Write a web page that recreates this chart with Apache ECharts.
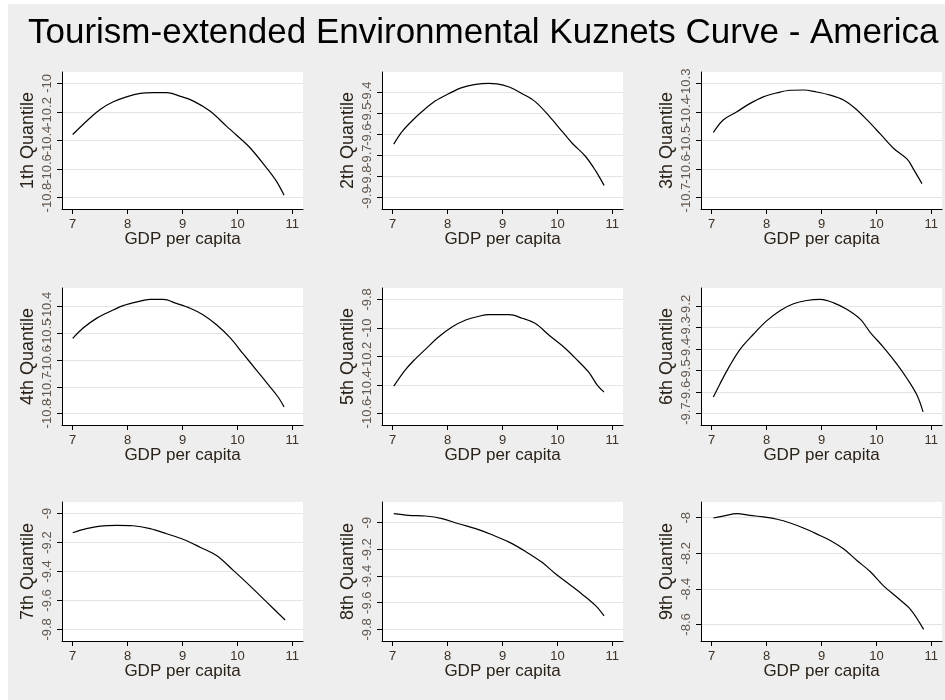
<!DOCTYPE html>
<html><head><meta charset="utf-8">
<script src="https://cdn.jsdelivr.net/npm/echarts@6/dist/echarts.min.js"></script>
<style>html,body{margin:0;padding:0;background:#ffffff;}#c{position:absolute;left:8px;top:4px;width:937px;height:696px;background:#eeeeee;}</style>
</head><body><div id="c"></div><script>
const titleText = 'Tourism-extended Environmental Kuznets Curve - America';
const panelNames = ['1th Quantile','2th Quantile','3th Quantile','4th Quantile','5th Quantile','6th Quantile','7th Quantile','8th Quantile','9th Quantile'];
const xAxisName = 'GDP per capita';
const xTicks = [7, 8, 9, 10, 11];

const q1x = [7.00, 7.32, 7.50, 7.74, 7.98, 8.23, 8.47, 8.71, 8.95, 9.20, 9.50, 9.80, 9.99, 10.23, 10.53, 10.71, 10.85];
const q1y = [-10.358, -10.241, -10.182, -10.129, -10.094, -10.070, -10.065, -10.065, -10.089, -10.124, -10.194, -10.299, -10.365, -10.451, -10.592, -10.685, -10.784];
const q2x = [7.02, 7.17, 7.35, 7.53, 7.78, 8.02, 8.26, 8.51, 8.75, 8.90, 9.12, 9.36, 9.60, 9.85, 10.09, 10.27, 10.51, 10.70, 10.85];
const q2y = [-9.645, -9.586, -9.535, -9.491, -9.439, -9.405, -9.376, -9.361, -9.356, -9.358, -9.373, -9.405, -9.444, -9.512, -9.586, -9.641, -9.703, -9.774, -9.842];
const q3x = [7.03, 7.21, 7.46, 7.70, 7.94, 8.19, 8.43, 8.67, 8.91, 9.16, 9.40, 9.61, 9.83, 10.07, 10.31, 10.56, 10.68, 10.83];
const q3y = [-10.472, -10.428, -10.399, -10.370, -10.347, -10.333, -10.324, -10.323, -10.330, -10.341, -10.358, -10.387, -10.428, -10.477, -10.527, -10.565, -10.602, -10.651];
const q4x = [7.00, 7.19, 7.44, 7.68, 7.92, 8.17, 8.41, 8.65, 8.89, 9.14, 9.38, 9.62, 9.87, 10.11, 10.35, 10.59, 10.74, 10.85];
const q4y = [-10.519, -10.480, -10.443, -10.418, -10.396, -10.382, -10.373, -10.373, -10.388, -10.406, -10.431, -10.468, -10.517, -10.578, -10.638, -10.699, -10.738, -10.775];
const q5x = [7.02, 7.23, 7.41, 7.60, 7.84, 8.08, 8.33, 8.57, 8.75, 9.12, 9.36, 9.60, 9.85, 10.09, 10.33, 10.57, 10.73, 10.85];
const q5y = [-10.408, -10.294, -10.218, -10.148, -10.062, -9.993, -9.944, -9.918, -9.907, -9.907, -9.932, -9.969, -10.051, -10.125, -10.213, -10.310, -10.403, -10.450];
const q6x = [7.03, 7.15, 7.33, 7.52, 7.76, 8.00, 8.25, 8.49, 8.73, 8.98, 9.22, 9.46, 9.71, 9.89, 10.13, 10.37, 10.56, 10.74, 10.85];
const q6y = [-9.623, -9.562, -9.477, -9.400, -9.331, -9.269, -9.220, -9.189, -9.174, -9.169, -9.185, -9.215, -9.262, -9.323, -9.392, -9.469, -9.538, -9.615, -9.692];
const q7x = [7.00, 7.25, 7.50, 7.80, 8.10, 8.41, 8.71, 9.02, 9.32, 9.62, 9.93, 10.23, 10.53, 10.87];
const q7y = [-9.132, -9.104, -9.086, -9.081, -9.084, -9.104, -9.139, -9.179, -9.232, -9.290, -9.394, -9.499, -9.610, -9.735];
const q8x = [7.02, 7.29, 7.60, 7.90, 8.20, 8.51, 8.81, 9.12, 9.42, 9.72, 9.97, 10.21, 10.45, 10.70, 10.85];
const q8y = [-8.932, -8.945, -8.950, -8.970, -9.008, -9.045, -9.091, -9.146, -9.216, -9.297, -9.385, -9.460, -9.536, -9.624, -9.699];
const q9x = [7.03, 7.21, 7.46, 7.70, 7.94, 8.19, 8.43, 8.67, 8.91, 9.16, 9.40, 9.65, 9.89, 10.13, 10.38, 10.62, 10.86];
const q9y = [-8.002, -7.991, -7.977, -7.987, -7.996, -8.009, -8.030, -8.058, -8.091, -8.128, -8.175, -8.242, -8.304, -8.383, -8.449, -8.515, -8.628];

const yTicks1 = [-10.8, -10.6, -10.4, -10.2, -10];
const yTicks2 = [-9.9, -9.8, -9.7, -9.6, -9.5, -9.4];
const yTicks3 = [-10.7, -10.6, -10.5, -10.4, -10.3];
const yTicks4 = [-10.8, -10.7, -10.6, -10.5, -10.4];
const yTicks5 = [-10.6, -10.4, -10.2, -10, -9.8];
const yTicks6 = [-9.7, -9.6, -9.5, -9.4, -9.3, -9.2];
const yTicks7 = [-9.8, -9.6, -9.4, -9.2, -9];
const yTicks8 = [-9.8, -9.6, -9.4, -9.2, -9];
const yTicks9 = [-8.6, -8.4, -8.2, -8];

const xs = [q1x, q2x, q3x, q4x, q5x, q6x, q7x, q8x, q9x];
const ys = [q1y, q2y, q3y, q4y, q5y, q6y, q7y, q8y, q9y];
const yt = [yTicks1, yTicks2, yTicks3, yTicks4, yTicks5, yTicks6, yTicks7, yTicks8, yTicks9];

// layout (page coords), container offset
const OX = 8, OY = 4;
const colLeft = [62, 382, 701];
const rowTop = [72, 288, 502];
const rowH = [137, 137, 139];
const plotW = 241;
const FONT = 'Liberation Sans, Arial, sans-serif';
const LABEL_COLOR = '#3d3024';

const xPad = 0.0487 * (xTicks[xTicks.length - 1] - xTicks[0]);
const xMinAxis = xTicks[0] - xPad, xMaxAxis = xTicks[xTicks.length - 1] + xPad;
const grids = [], xAxes = [], yAxes = [], series = [];
for (let i = 0; i < 9; i++) {
  const r = Math.floor(i / 3), c = i % 3;
  grids.push({
    left: colLeft[c] - OX, top: rowTop[r] - OY, width: plotW, height: rowH[r],
    show: true, backgroundColor: '#ffffff', borderWidth: 0, containLabel: false, outerBoundsMode: 'none'
  });
  xAxes.push({
    type: 'value', gridIndex: i, min: xMinAxis, max: xMaxAxis,
    name: xAxisName, nameLocation: 'middle', nameGap: 22, nameMoveOverlap: false,
    nameTextStyle: { fontSize: 17, color: '#2a2218', fontFamily: FONT },
    axisLine: { show: true, onZero: false, lineStyle: { color: '#000', width: 1 } },
    axisTick: { show: true, length: 5, customValues: xTicks, lineStyle: { color: '#000' } },
    axisLabel: { customValues: xTicks, showMinLabel: true, showMaxLabel: true, hideOverlap: false,
      fontSize: 13, color: LABEL_COLOR, margin: 9, fontFamily: FONT },
    splitLine: { show: false }
  });
  const t = yt[i], d = ys[i];
  const lo = Math.min(Math.min.apply(null, d), t[0]);
  const hi = Math.max(Math.max.apply(null, d), t[t.length - 1]);
  const pad = 0.1 * (hi - lo);
  yAxes.push({
    type: 'value', gridIndex: i, min: lo - pad, max: hi + pad,
    name: panelNames[i], nameLocation: 'middle', nameGap: 25, nameMoveOverlap: false,
    nameTextStyle: { fontSize: 18, color: '#2a2218', fontFamily: FONT },
    axisLine: { show: true, onZero: false, lineStyle: { color: '#000', width: 1 } },
    axisTick: { show: true, length: 5, customValues: t, lineStyle: { color: '#000' } },
    axisLabel: { show: false, customValues: t },
    splitLine: { show: true, lineStyle: { color: '#e4e4e4', width: 1 } }
  });
  series.push({
    type: 'line', xAxisIndex: i, yAxisIndex: i, showSymbol: false, smooth: 0.35,
    lineStyle: { color: '#000', width: 1.2 }, silent: true, animation: false,
    data: xs[i].map((x, k) => [x, d[k]])
  });
  // y tick labels (rotated, allowed to overlap as in the original)
  series.push({
    type: 'scatter', xAxisIndex: i, yAxisIndex: i, silent: true, animation: false, clip: false,
    symbol: 'circle', symbolSize: 1, itemStyle: { color: 'rgba(0,0,0,0)' },
    label: { show: true, position: [-8, 0.5], rotate: 90, align: 'center', verticalAlign: 'bottom',
      fontSize: 13, color: LABEL_COLOR, fontFamily: FONT,
      formatter: p => String(p.value[1]) },
    labelLayout: { hideOverlap: false },
    data: t.map(v => [xMinAxis, v])
  });
}

const chart = echarts.init(document.getElementById('c'), null, { renderer: 'canvas' });
chart.setOption({
  backgroundColor: '#eeeeee',
  animation: false,
  title: { text: titleText, left: 28 - OX, top: 16 - OY, padding: 0,
    textStyle: { fontSize: 35, fontWeight: 'normal', color: '#000', fontFamily: FONT } },
  grid: grids, xAxis: xAxes, yAxis: yAxes, series: series
});
</script></body></html>
